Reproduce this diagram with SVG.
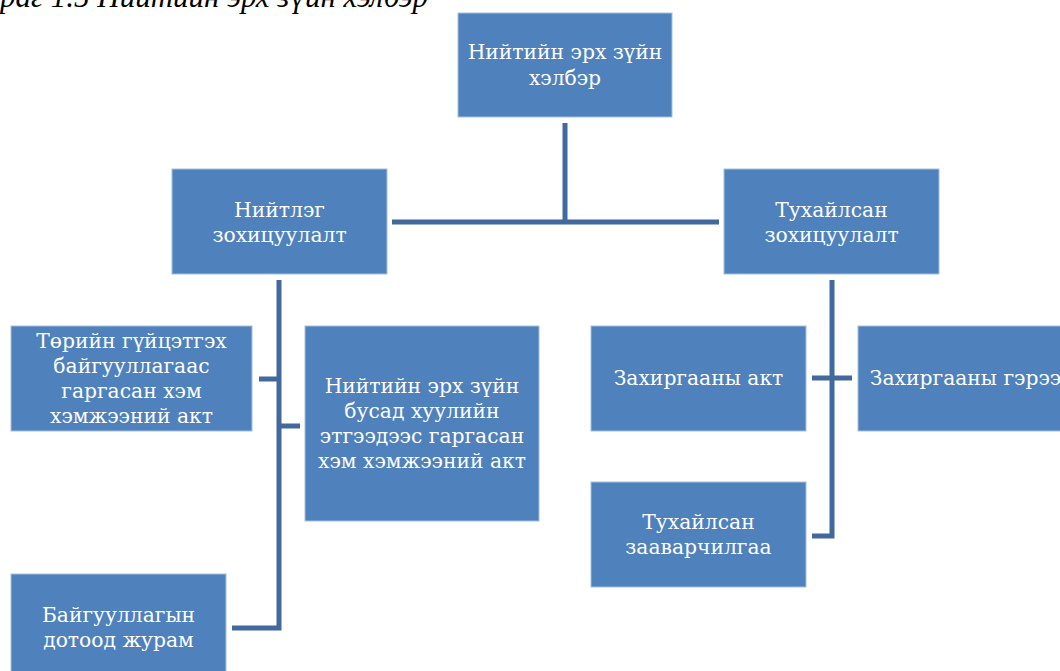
<svg xmlns="http://www.w3.org/2000/svg" width="1060" height="671" viewBox="0 0 1060 671">
<style>
.box{fill:#4f81bd;stroke:#a6bfdf;stroke-width:1}
.t{font-family:"DejaVu Serif","Liberation Serif",serif;font-size:20.3px;fill:#ffffff;text-anchor:middle}
.c{stroke:#41699d;stroke-width:5;fill:none}
.cap{font-family:"Liberation Serif",serif;font-style:italic;font-size:31px;fill:#000000}
</style>
<rect width="1060" height="671" fill="#ffffff"/>
<text class="cap" x="0" y="7">раг 1.5 Нийтийн эрх зүйн хэлбэр</text>
<g id="connectors">
<path class="c" d="M565,123 V222 M392,222 H719"/>
<path class="c" d="M279,280 V628 H232 M259,379 H279 M279,426 H300"/>
<path class="c" d="M832,280 V536 H812 M812,378 H852"/>
</g>
<g id="n-top"><rect class="box" x="458" y="13" width="214" height="104"/>
<text class="t" x="565" y="59">Нийтийн эрх зүйн</text><text class="t" x="565" y="85">хэлбэр</text></g>
<g id="n-general"><rect class="box" x="172" y="169" width="215" height="105"/>
<text class="t" x="279.5" y="217">Нийтлэг</text><text class="t" x="279.5" y="242">зохицуулалт</text></g>
<g id="n-special"><rect class="box" x="724" y="169" width="215" height="105"/>
<text class="t" x="831.5" y="217">Тухайлсан</text><text class="t" x="831.5" y="242">зохицуулалт</text></g>
<g id="n-exec"><rect class="box" x="11" y="326" width="241" height="105"/>
<text class="t" x="131.5" y="348">Төрийн гүйцэтгэх</text><text class="t" x="131.5" y="373">байгууллагаас</text><text class="t" x="131.5" y="398">гаргасан хэм</text><text class="t" x="131.5" y="423">хэмжээний акт</text></g>
<g id="n-other"><rect class="box" x="305" y="326" width="234" height="195"/>
<text class="t" x="422" y="393">Нийтийн эрх зүйн</text><text class="t" x="422" y="418">бусад хуулийн</text><text class="t" x="422" y="443">этгээдээс гаргасан</text><text class="t" x="422" y="468">хэм хэмжээний акт</text></g>
<g id="n-internal"><rect class="box" x="11" y="574" width="215" height="105"/>
<text class="t" x="118.5" y="622">Байгууллагын</text><text class="t" x="118.5" y="647">дотоод журам</text></g>
<g id="n-act"><rect class="box" x="591" y="326" width="215" height="105"/>
<text class="t" x="698.5" y="385">Захиргааны акт</text></g>
<g id="n-contract"><rect class="box" x="858" y="326" width="215" height="105"/>
<text class="t" x="965.5" y="385">Захиргааны гэрээ</text></g>
<g id="n-instr"><rect class="box" x="591" y="482" width="215" height="105"/>
<text class="t" x="698.5" y="529">Тухайлсан</text><text class="t" x="698.5" y="554">зааварчилгаа</text></g>
</svg>
